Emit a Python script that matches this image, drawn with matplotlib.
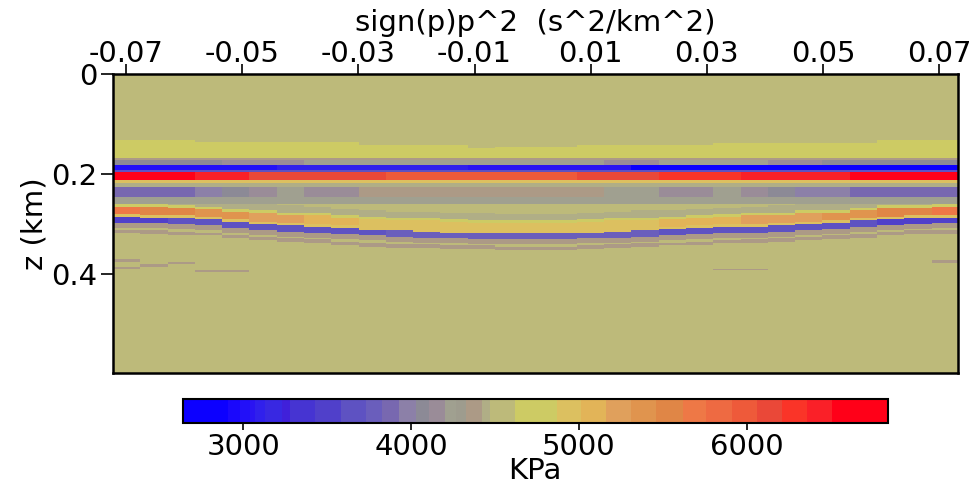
import numpy as np
import matplotlib
matplotlib.use('Agg')
from matplotlib import pyplot as plt
from matplotlib.colors import ListedColormap, BoundaryNorm

# grid of the panel: 31 sign(p)p^2 traces, depth 0 - 0.6 km
x_min, x_max = -0.0723, 0.0732
z_max = 0.6
dz = 0.0025
n_cols = 31
background = 4550

# top of the bright (yellow) layer for each trace
yellow_top = [0.135, 0.135, 0.135, 0.138, 0.138, 0.138, 0.138, 0.138, 0.138, 0.144, 0.144,
              0.144, 0.144, 0.149, 0.148, 0.147, 0.147, 0.145, 0.145, 0.144, 0.144, 0.144,
              0.140, 0.140, 0.140, 0.140, 0.140, 0.140, 0.135, 0.135, 0.135]
gray_vals = [4080, 4080, 4100, 4100, 4120, 4150, 4150, 4200, 4200, 4250, 4250, 4250, 4200, 4200,
             4250, 4250, 4200, 4200, 4150, 4150, 4200, 4250, 4200, 4200, 4150, 4150, 4100, 4100,
             4100, 4080, 4080]
blue_vals = [3000, 3000, 3000, 3000, 3000, 3000, 3100, 3100, 3100, 3100, 3100, 3100, 3100, 3050,
             3050, 3050, 3050, 3050, 3050, 2850, 2850, 2850, 2850, 2850, 2850, 2700, 2700, 2700,
             2700, 2700, 2700]
red_vals = [6800, 6800, 6600, 6450, 6400, 6200, 6200, 6150, 6150, 6100, 6050, 6050, 6050, 6000,
            6000, 6050, 6050, 6100, 6150, 6150, 6300, 6300, 6300, 6500, 6500, 6500, 6500, 6800,
            6800, 6800, 6800]
mottle_vals = [3850, 3850, 3900, 4000, 4100, 4150, 4250, 4150, 4150, 4350, 4350, 4350, 4350, 4350,
               4350, 4350, 4350, 4350, 4250, 4200, 4150, 4150, 4250, 4150, 4050, 4000, 3950, 3900,
               3900, 3850, 3850]

# curved event: depth of the low-value (purple) trough for each trace
trough_depth = [0.294, 0.295, 0.297, 0.299, 0.304, 0.308, 0.311, 0.313, 0.317, 0.320, 0.322,
                0.323, 0.325, 0.326, 0.327, 0.327, 0.327, 0.325, 0.323, 0.321, 0.319, 0.317,
                0.314, 0.313, 0.311, 0.308, 0.306, 0.302, 0.298, 0.296, 0.295]
peak_vals = [5700, 5600, 5500, 5400, 5400, 5300, 5200, 5100, 5050, 5000, 5000, 4950, 4950, 4950,
             4950, 4950, 4950, 4950, 5000, 5000, 5050, 5100, 5150, 5200, 5250, 5300, 5350, 5400,
             5500, 5550, 5700]
trough_vals = [3550, 3550, 3600, 3600, 3600, 3650, 3650, 3700, 3700, 3700, 3750, 3750, 3750, 3750,
               3800, 3800, 3800, 3750, 3750, 3750, 3700, 3700, 3700, 3650, 3650, 3650, 3600, 3600,
               3550, 3550, 3550]

# flat layers (top km, bottom km, value)
flat_layers = [
    (yellow_top, 0.169, 4750),
    (0.169, 0.176, 4350),
    (0.176, 0.184, gray_vals),
    (0.184, 0.1955, blue_vals),
    (0.1955, 0.1985, 3700),
    (0.1985, 0.2155, red_vals),
    (0.2155, 0.2205, 4900),
    (0.2205, 0.228, 4450),
    (0.228, 0.248, mottle_vals),
    (0.248, 0.262, 4250),
]
# layers of the curved event, relative to the trough depth
curve_layers = [
    (-0.045, -0.032, 4440),
    (-0.032, -0.027, 4750),
    (-0.027, -0.011, peak_vals),
    (-0.011, -0.006, 4900),
    (-0.006, 0.006, trough_vals),
    (0.006, 0.016, 4380),
    (0.020, 0.027, 4400),
]
# short faint streaks deeper down: trace, top, bottom, value
streaks = [(0, 0.3735, 0.377, 4400), (0, 0.388, 0.392, 4400), (1, 0.3835, 0.387, 4400),
           (2, 0.3775, 0.383, 4400), (3, 0.394, 0.397, 4400), (4, 0.394, 0.397, 4400),
           (22, 0.392, 0.396, 4400), (23, 0.392, 0.396, 4400), (30, 0.376, 0.380, 4400)]

# colour scale segments (KPa)
bounds = [2640, 2910, 2980, 3040, 3070, 3130, 3230, 3280, 3430, 3580, 3730, 3830, 3930, 4030,
          4110, 4200, 4270, 4330, 4420, 4470, 4620, 4870, 5010, 5160, 5310, 5460, 5620, 5760,
          5910, 6060, 6210, 6360, 6510, 6840]
colors = ['#0c00ff', '#1a08fc', '#2210f8', '#2a14f2', '#3020ec', '#3828e2', '#4020da', '#4634d2',
          '#5040ca', '#5e52c2', '#6a5ebc', '#7868b0', '#8c80a8', '#8c8a96', '#9a8c98', '#a0a090',
          '#9e9c8e', '#ac9a86', '#b0ae86', '#bdba7a', '#cdcb64', '#dcc060', '#e2b458', '#e0a05c',
          '#e0944e', '#e08646', '#ee7846', '#ee6a42', '#ee5a3a', '#ea4838', '#fa3428', '#fa2028',
          '#ff0018']

# build the image
n_rows = int(round(z_max / dz))
z = (np.arange(n_rows) + 0.5) * dz
field = np.full((n_rows, n_cols), float(background))
for top, bot, val in flat_layers:
    top = np.broadcast_to(np.asarray(top, float), (n_cols,))
    val = np.broadcast_to(np.asarray(val, float), (n_cols,))
    for c in range(n_cols):
        field[(z >= top[c]) & (z < bot), c] = val[c]
zt = np.asarray(trough_depth)
for d0, d1, val in curve_layers:
    val = np.broadcast_to(np.asarray(val, float), (n_cols,))
    for c in range(n_cols):
        rows = (z >= max(zt[c] + d0, 0.262)) & (z < zt[c] + d1)
        field[rows, c] = val[c]
for c, top, bot, val in streaks:
    field[(z >= top) & (z < bot), c] = val

cmap = ListedColormap(colors)
norm = BoundaryNorm(bounds, cmap.N)

plt.rcParams['font.family'] = 'DejaVu Sans'
fig = plt.figure(figsize=(9.74, 4.84), dpi=100)
ax = fig.add_axes([0.1157, 0.2287, 0.8676, 0.6184])
im = ax.imshow(field, cmap=cmap, norm=norm, aspect='auto', interpolation='nearest',
               extent=[x_min, x_max, z_max, 0])

ax.xaxis.tick_top()
ax.xaxis.set_label_position('top')
ax.set_xticks([-0.07, -0.05, -0.03, -0.01, 0.01, 0.03, 0.05, 0.07])
ax.set_xticklabels(['-0.07', '-0.05', '-0.03', '-0.01', '0.01', '0.03', '0.05', '0.07'])
ax.set_yticks([0, 0.2, 0.4])
ax.set_yticklabels(['0', '0.2', '0.4'])
ax.tick_params(axis='x', direction='out', length=7, width=1.2, labelsize=21, pad=-3)
ax.tick_params(axis='y', direction='out', length=9, width=1.2, labelsize=21, pad=2)
ax.set_xlabel('sign(p)p^2  (s^2/km^2)', fontsize=21, labelpad=7)
ax.set_ylabel('z (km)', fontsize=21, labelpad=2)
for side in ax.spines:
    ax.spines[side].set_linewidth(1.8)

cax = fig.add_axes([0.1876, 0.1254, 0.7238, 0.0496])
cb = fig.colorbar(im, cax=cax, orientation='horizontal', spacing='proportional',
                  ticks=[3000, 4000, 5000, 6000])
cb.ax.minorticks_off()
cb.ax.tick_params(direction='out', length=5, width=1.2, labelsize=21, pad=2)
cb.outline.set_linewidth(1.5)
cb.set_label('KPa', fontsize=21)
cb.ax.xaxis.set_label_coords(0.5, -1.4)

plt.savefig('out.png', dpi=100)
